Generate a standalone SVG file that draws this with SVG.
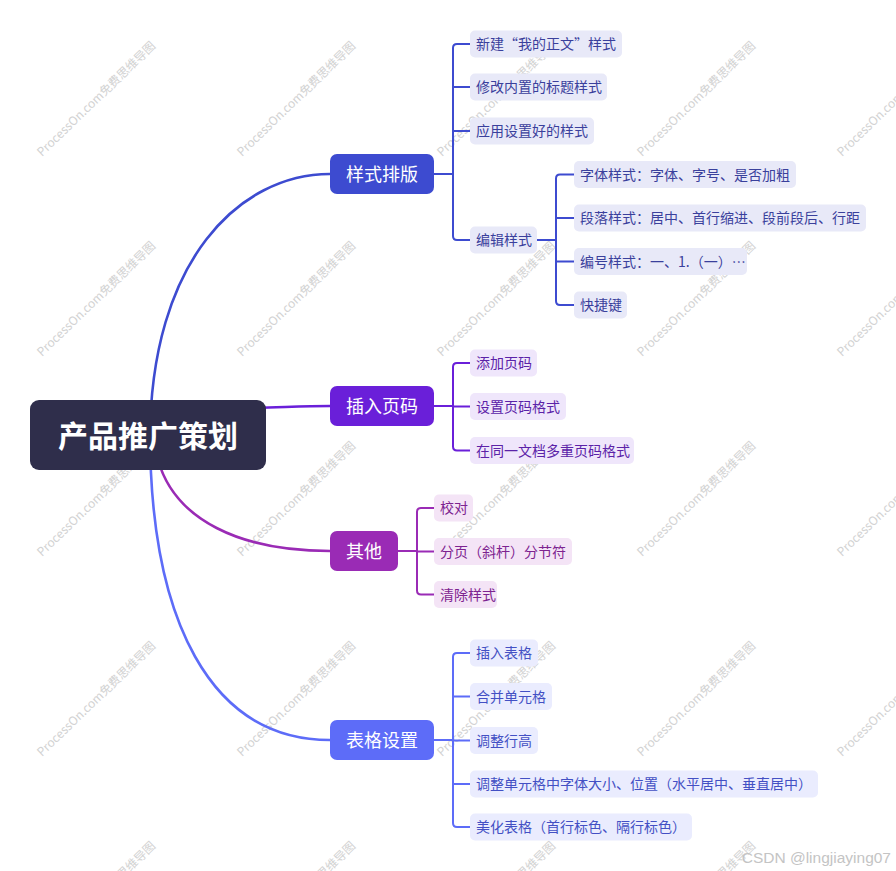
<svg xmlns="http://www.w3.org/2000/svg" width="896" height="871" viewBox="0 0 896 871">
<style>
text{font-family:"Noto Sans CJK SC","Noto Sans",sans-serif}
.wm{font-size:12px;fill:#d2d2d2}
.leaf{font-size:14px}
.bt{font-size:18px;fill:#fff;text-anchor:middle}
.c1{fill:none;stroke:#3d4bd0;stroke-width:2}
.c2{fill:none;stroke:#6a1fd9;stroke-width:2}
.c3{fill:none;stroke:#9a2bb5;stroke-width:2}
.c4{fill:none;stroke:#5d6cf8;stroke-width:2}
.f1{fill:#e8e9f8}.t1{fill:#3a409c}
.f2{fill:#efe6fb}.t2{fill:#5b22a8}
.f3{fill:#f4e4f6}.t3{fill:#7d2390}
.f4{fill:#eaecfe}.t4{fill:#4350c4}
</style>
<rect width="896" height="871" fill="#fff"/>
<g id="watermarks">
<text class="wm" transform="translate(42,157) rotate(-44)">ProcessOn.com免费思维导图</text>
<text class="wm" transform="translate(242,157) rotate(-44)">ProcessOn.com免费思维导图</text>
<text class="wm" transform="translate(442,157) rotate(-44)">ProcessOn.com免费思维导图</text>
<text class="wm" transform="translate(642,157) rotate(-44)">ProcessOn.com免费思维导图</text>
<text class="wm" transform="translate(842,157) rotate(-44)">ProcessOn.com免费思维导图</text>
<text class="wm" transform="translate(42,357) rotate(-44)">ProcessOn.com免费思维导图</text>
<text class="wm" transform="translate(242,357) rotate(-44)">ProcessOn.com免费思维导图</text>
<text class="wm" transform="translate(442,357) rotate(-44)">ProcessOn.com免费思维导图</text>
<text class="wm" transform="translate(642,357) rotate(-44)">ProcessOn.com免费思维导图</text>
<text class="wm" transform="translate(842,357) rotate(-44)">ProcessOn.com免费思维导图</text>
<text class="wm" transform="translate(42,557) rotate(-44)">ProcessOn.com免费思维导图</text>
<text class="wm" transform="translate(242,557) rotate(-44)">ProcessOn.com免费思维导图</text>
<text class="wm" transform="translate(442,557) rotate(-44)">ProcessOn.com免费思维导图</text>
<text class="wm" transform="translate(642,557) rotate(-44)">ProcessOn.com免费思维导图</text>
<text class="wm" transform="translate(842,557) rotate(-44)">ProcessOn.com免费思维导图</text>
<text class="wm" transform="translate(42,757) rotate(-44)">ProcessOn.com免费思维导图</text>
<text class="wm" transform="translate(242,757) rotate(-44)">ProcessOn.com免费思维导图</text>
<text class="wm" transform="translate(442,757) rotate(-44)">ProcessOn.com免费思维导图</text>
<text class="wm" transform="translate(642,757) rotate(-44)">ProcessOn.com免费思维导图</text>
<text class="wm" transform="translate(842,757) rotate(-44)">ProcessOn.com免费思维导图</text>
<text class="wm" transform="translate(42,957) rotate(-44)">ProcessOn.com免费思维导图</text>
<text class="wm" transform="translate(242,957) rotate(-44)">ProcessOn.com免费思维导图</text>
<text class="wm" transform="translate(442,957) rotate(-44)">ProcessOn.com免费思维导图</text>
<text class="wm" transform="translate(642,957) rotate(-44)">ProcessOn.com免费思维导图</text>
</g>
<g id="connectors">
<path d="M150,440 C150,260 240,174 330,174" fill="none" stroke="#3d4bd0" stroke-width="2.6"/>
<path d="M255,408 C290,407 305,406 330,406" fill="none" stroke="#6a1fd9" stroke-width="2.6"/>
<path d="M158,460 C175,520 240,551 330,551" fill="none" stroke="#9a2bb5" stroke-width="2.6"/>
<path d="M150,432 C150,620 210,740 330,740" fill="none" stroke="#5d6cf8" stroke-width="2.6"/>
<path class="c1" d="M434,174 H453 V48 Q453,44 457,44 H470 M453,87 H470 M453,131 H470 M453,174 V236 Q453,240 457,240 H470"/>
<path class="c1" d="M537,240 H556 V178.5 Q556,174.5 560,174.5 H574 M556,218 H574 M556,240 V301 Q556,305 560,305 H574 M556,261.5 H574"/>
<path class="c2" d="M434,406 H453 V367 Q453,363 457,363 H470 M453,406.5 H470 M453,406 V446.5 Q453,450.5 457,450.5 H470"/>
<path class="c3" d="M398,551 H417 V512 Q417,508 421,508 H434 M417,551.5 H434 M417,551 V590.5 Q417,594.5 421,594.5 H434"/>
<path class="c4" d="M434,740 H453 V657 Q453,653 457,653 H470 M453,696.5 H470 M453,740.5 H470 M453,784 H470 M453,740 V823 Q453,827 457,827 H470"/>
</g>
<g id="root">
<rect x="30" y="400" width="236" height="70" rx="9" fill="#2f2e4b"/>
<text x="148" y="447" font-size="30" font-weight="bold" fill="#fff" text-anchor="middle">产品推广策划</text>
</g>
<g id="branch-style">
<rect x="330" y="154" width="104" height="40" rx="7" fill="#3d4bd0"/>
<text class="bt" x="382" y="180.5">样式排版</text>
</g>
<g id="leaf-s1"><rect class="f1" x="470" y="30.5" width="152" height="27" rx="5"/><text class="leaf t1" x="476" y="49">新建“我的正文”样式</text></g>
<g id="leaf-s2"><rect class="f1" x="470" y="73.5" width="137" height="27" rx="5"/><text class="leaf t1" x="476" y="92">修改内置的标题样式</text></g>
<g id="leaf-s3"><rect class="f1" x="470" y="117.5" width="124" height="27" rx="5"/><text class="leaf t1" x="476" y="136">应用设置好的样式</text></g>
<g id="leaf-s4"><rect class="f1" x="470" y="226.5" width="67" height="27" rx="5"/><text class="leaf t1" x="476" y="245">编辑样式</text></g>
<g id="leaf-e1"><rect class="f1" x="574" y="161" width="222" height="27" rx="5"/><text class="leaf t1" x="580" y="179.5">字体样式：字体、字号、是否加粗</text></g>
<g id="leaf-e2"><rect class="f1" x="574" y="204.5" width="292" height="27" rx="5"/><text class="leaf t1" x="580" y="223">段落样式：居中、首行缩进、段前段后、行距</text></g>
<g id="leaf-e3"><rect class="f1" x="574" y="248" width="173" height="27" rx="5"/><text class="leaf t1" x="580" y="266.5">编号样式：一、1.（一）…</text></g>
<g id="leaf-e4"><rect class="f1" x="574" y="291.5" width="53" height="27" rx="5"/><text class="leaf t1" x="580" y="310">快捷键</text></g>
<g id="branch-page">
<rect x="330" y="386" width="104" height="40" rx="7" fill="#6a1fd9"/>
<text class="bt" x="382" y="412.5">插入页码</text>
</g>
<g id="leaf-p1"><rect class="f2" x="470" y="349.5" width="67" height="27" rx="5"/><text class="leaf t2" x="476" y="368">添加页码</text></g>
<g id="leaf-p2"><rect class="f2" x="470" y="393" width="96" height="27" rx="5"/><text class="leaf t2" x="476" y="411.5">设置页码格式</text></g>
<g id="leaf-p3"><rect class="f2" x="470" y="437" width="164" height="27" rx="5"/><text class="leaf t2" x="476" y="455.5">在同一文档多重页码格式</text></g>
<g id="branch-other">
<rect x="330" y="531" width="68" height="40" rx="7" fill="#9a2bb5"/>
<text class="bt" x="364" y="557.5">其他</text>
</g>
<g id="leaf-o1"><rect class="f3" x="434" y="494.5" width="39" height="27" rx="5"/><text class="leaf t3" x="440" y="513">校对</text></g>
<g id="leaf-o2"><rect class="f3" x="434" y="538" width="138" height="27" rx="5"/><text class="leaf t3" x="440" y="556.5">分页（斜杆）分节符</text></g>
<g id="leaf-o3"><rect class="f3" x="434" y="581" width="63" height="27" rx="5"/><text class="leaf t3" x="440" y="599.5">清除样式</text></g>
<g id="branch-table">
<rect x="330" y="720" width="104" height="40" rx="7" fill="#5d6cf8"/>
<text class="bt" x="382" y="746.5">表格设置</text>
</g>
<g id="leaf-t1"><rect class="f4" x="470" y="639.5" width="68" height="27" rx="5"/><text class="leaf t4" x="476" y="658">插入表格</text></g>
<g id="leaf-t2"><rect class="f4" x="470" y="683" width="82" height="27" rx="5"/><text class="leaf t4" x="476" y="701.5">合并单元格</text></g>
<g id="leaf-t3"><rect class="f4" x="470" y="727" width="68" height="27" rx="5"/><text class="leaf t4" x="476" y="745.5">调整行高</text></g>
<g id="leaf-t4"><rect class="f4" x="470" y="770.5" width="348" height="27" rx="5"/><text class="leaf t4" x="476" y="789">调整单元格中字体大小、位置（水平居中、垂直居中）</text></g>
<g id="leaf-t5"><rect class="f4" x="470" y="813.5" width="222" height="27" rx="5"/><text class="leaf t4" x="476" y="832">美化表格（首行标色、隔行标色）</text></g>
<text x="891" y="863" font-family="Liberation Sans, sans-serif" font-size="15.5" fill="#c4c4c4" text-anchor="end" style="font-family:'Liberation Sans',sans-serif">CSDN @lingjiaying07</text>
</svg>
